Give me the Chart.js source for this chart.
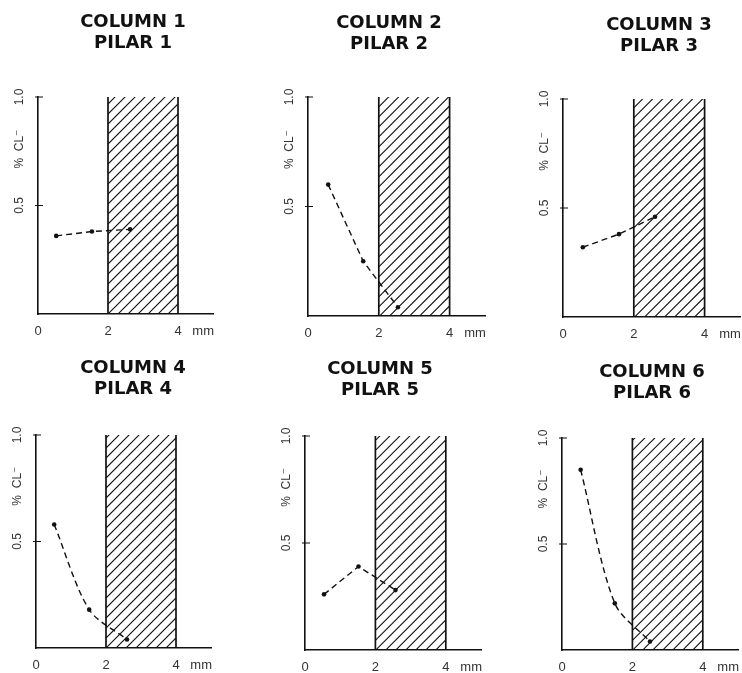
<!DOCTYPE html>
<html>
<head>
<meta charset="utf-8">
<script src="https://cdn.jsdelivr.net/npm/chart.js@4"></script>
<style>
  html, body { margin: 0; padding: 0; background: #fff; overflow: hidden; }
  body { width: 742px; height: 673px; position: relative; }
  canvas { position: absolute; }
</style>
</head>
<body>
<canvas id="p1"></canvas>
<canvas id="p2"></canvas>
<canvas id="p3"></canvas>
<canvas id="p4"></canvas>
<canvas id="p5"></canvas>
<canvas id="p6"></canvas>
<script>
// chart values
const panelTitles = [
  ['COLUMN 1', 'PILAR 1'], ['COLUMN 2', 'PILAR 2'], ['COLUMN 3', 'PILAR 3'],
  ['COLUMN 4', 'PILAR 4'], ['COLUMN 5', 'PILAR 5'], ['COLUMN 6', 'PILAR 6'],
];
const depth1 = [0.52, 1.54, 2.63];  const chloride1 = [0.36, 0.38, 0.39];
const depth2 = [0.57, 1.56, 2.54];  const chloride2 = [0.60, 0.25, 0.04];
const depth3 = [0.56, 1.58, 2.60];  const chloride3 = [0.32, 0.38, 0.46];
const depth4 = [0.52, 1.52, 2.60];  const chloride4 = [0.58, 0.18, 0.04];
const depth5 = [0.54, 1.52, 2.57];  const chloride5 = [0.26, 0.39, 0.28];
const depth6 = [0.53, 1.50, 2.50];  const chloride6 = [0.85, 0.22, 0.04];

const xTickValues = [0, 2, 4, 4.72];
const xTickLabels = ['0', '2', '4', 'mm'];
const yTickValues = [0.5, 1.0];
const yTickLabels = ['0.5', '1.0'];
const yAxisTitle = '%  CL\u207B';
const yTitleAt = 0.76;
const hatchRange = [2, 4];
const hatchTop = 1.0;

const depths = [depth1, depth2, depth3, depth4, depth5, depth6];
const chlorides = [chloride1, chloride2, chloride3, chloride4, chloride5, chloride6];

// canvas placement per panel (left, top, width, height, axis widths, title paddings)
const frames = [
  { L: 0,   T: 0,   W: 266, H: 344, wy: 38, wr: 53, tp: 11.5, tb: 43.5, tension: 0 },
  { L: 250, T: 0,   W: 278, H: 346, wy: 58, wr: 43, tp: 12.5, tb: 42.5, tension: 0 },
  { L: 500, T: 0,   W: 318, H: 347, wy: 63, wr: 78, tp: 15,   tb: 42,   tension: 0 },
  { L: 0,   T: 340, W: 266, H: 338, wy: 36, wr: 55, tp: 17.5, tb: 35.5, tension: 0.3 },
  { L: 250, T: 340, W: 260, H: 340, wy: 55, wr: 29, tp: 18.5, tb: 35.5, tension: 0 },
  { L: 500, T: 340, W: 304, H: 340, wy: 62, wr: 66, tp: 21.5, tb: 34.5, tension: 0.3 },
];

const INK = '#111';
const LABEL = '#333';

const decor = {
  id: 'decor',
  beforeDatasetsDraw(chart) {
    const { ctx, scales: { x, y } } = chart;
    const x0 = x.getPixelForValue(hatchRange[0]);
    const x1 = x.getPixelForValue(hatchRange[1]);
    const yt = y.getPixelForValue(hatchTop);
    const yb = y.getPixelForValue(0);
    const w = x1 - x0, h = yb - yt;
    ctx.save();
    ctx.beginPath();
    ctx.rect(x0, yt, w, h);
    ctx.clip();
    ctx.strokeStyle = INK;
    ctx.lineWidth = 1.1;
    ctx.beginPath();
    for (let s = -w; s < h + w; s += 10) {
      ctx.moveTo(x0, yb - s);
      ctx.lineTo(x1, yb - s - w);
    }
    ctx.stroke();
    ctx.restore();
    ctx.save();
    ctx.strokeStyle = INK;
    ctx.lineWidth = 1.7;
    ctx.beginPath();
    ctx.moveTo(x0, yt); ctx.lineTo(x0, yb);
    ctx.moveTo(x1, yt); ctx.lineTo(x1, yb);
    ctx.stroke();
    ctx.restore();
  },
  afterDraw(chart) {
    const { ctx, scales: { y } } = chart;
    const ax = chart.chartArea.left;
    ctx.save();
    ctx.strokeStyle = INK;
    ctx.lineWidth = 1.2;
    ctx.beginPath();
    yTickValues.forEach(v => {
      const py = y.getPixelForValue(v);
      ctx.moveTo(ax - 3, py); ctx.lineTo(ax + 5, py);
    });
    ctx.stroke();
    ctx.fillStyle = LABEL;
    ctx.font = '12px "Liberation Sans", "DejaVu Sans", sans-serif';
    ctx.textAlign = 'center';
    ctx.textBaseline = 'middle';
    const put = (txt, v) => {
      ctx.save();
      ctx.translate(ax - 18, y.getPixelForValue(v));
      ctx.rotate(-Math.PI / 2);
      ctx.fillText(txt, 0, 0);
      ctx.restore();
    };
    yTickValues.forEach((v, i) => put(yTickLabels[i], v));
    put(yAxisTitle, yTitleAt);
    ctx.restore();
  }
};

frames.forEach((f, i) => {
  const canvas = document.getElementById('p' + (i + 1));
  canvas.width = f.W; canvas.height = f.H;
  canvas.style.left = f.L + 'px'; canvas.style.top = f.T + 'px';
  canvas.style.width = f.W + 'px'; canvas.style.height = f.H + 'px';
  new Chart(canvas.getContext('2d'), {
    type: 'line',
    data: {
      datasets: [{
        data: depths[i].map((d, k) => ({ x: d, y: chlorides[i][k] })),
        borderColor: INK, borderWidth: 1.4, borderDash: [6, 4],
        tension: f.tension, fill: false,
        pointRadius: 2.3, pointBackgroundColor: INK, pointBorderWidth: 0,
      }]
    },
    options: {
      responsive: false, animation: false, devicePixelRatio: 1,
      layout: { padding: 0 },
      plugins: {
        legend: { display: false },
        tooltip: { enabled: false },
        title: {
          display: true, text: panelTitles[i], color: INK,
          font: { family: 'DejaVu Sans', weight: 'bold', size: 18, lineHeight: 21 / 18 },
          padding: { top: f.tp, bottom: f.tb },
        },
      },
      scales: {
        x: {
          type: 'linear', min: 0, max: 5,
          grid: { display: false, drawTicks: false },
          border: { display: true, color: INK, width: 1.6 },
          ticks: {
            autoSkip: false, maxRotation: 0, minRotation: 0, padding: 10, color: LABEL,
            font: { family: 'Liberation Sans', size: 13 },
            callback: (v, k) => xTickLabels[k],
          },
          afterBuildTicks: s => { s.ticks = xTickValues.map(v => ({ value: v })); },
          afterFit: s => { s.height = 30; },
        },
        y: {
          type: 'linear', position: 'left', min: 0, max: 1,
          grid: { display: false, drawTicks: false },
          border: { display: true, color: INK, width: 1.6 },
          ticks: { display: false },
          afterFit: s => { s.width = f.wy; },
        },
        pad: {
          type: 'linear', position: 'right',
          grid: { display: false, drawTicks: false },
          border: { display: false },
          ticks: { display: false },
          afterFit: s => { s.width = f.wr; },
        },
      }
    },
    plugins: [decor]
  });
});
</script>
</body>
</html>
